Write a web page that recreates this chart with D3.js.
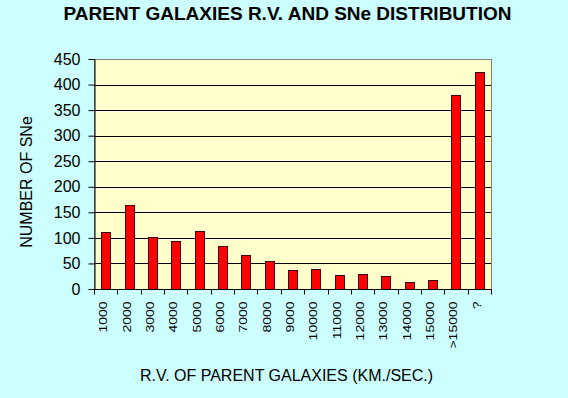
<!DOCTYPE html>
<html>
<head>
<meta charset="utf-8">
<script src="https://cdn.jsdelivr.net/npm/d3@7"></script>
<style>
  body { margin: 0; background: #ccffff; }
  svg { display: block; font-family: "Liberation Sans", Arial, sans-serif; }
</style>
</head>
<body>
<svg id="chart" width="568" height="398"></svg>
<script>
const categories = ["1000", "2000", "3000", "4000", "5000", "6000", "7000", "8000", "9000",
    "10000", "11000", "12000", "13000", "14000", "15000", ">15000", "?"];
const snCounts = [111, 164, 101, 93, 113, 85, 66, 54, 38, 40, 27, 29, 25, 13, 17, 379, 424];
const yTicks = [0, 50, 100, 150, 200, 250, 300, 350, 400, 450];

(function () {
    const svg = d3.select("#chart");
    const plotLeft = 94, plotRight = 491, plotTop = 59, plotBottom = 289;

    svg.append("rect").attr("width", 568).attr("height", 398).attr("fill", "#ccffff");

    const x = d3.scaleBand().domain(categories).range([plotLeft, plotRight]);
    const y = d3.scaleLinear().domain([0, 450]).range([plotBottom, plotTop]);

    // plot background
    svg.append("rect")
        .attr("x", plotLeft + 0.5).attr("y", plotTop + 0.5)
        .attr("width", plotRight - plotLeft).attr("height", plotBottom - plotTop)
        .attr("fill", "#ffffcc")
        .attr("stroke", "#808080");

    // gridlines
    svg.append("g")
        .selectAll("line")
        .data(yTicks.slice(1, -1))
        .enter()
        .append("line")
        .attr("x1", plotLeft).attr("x2", plotRight)
        .attr("y1", (d) => Math.round(y(d)) + 0.5)
        .attr("y2", (d) => Math.round(y(d)) + 0.5)
        .attr("stroke", "#000");

    // bars
    const barW = 9;
    svg.append("g")
        .selectAll("rect")
        .data(snCounts)
        .enter()
        .append("rect")
        .attr("x", (d, i) => Math.round(x(categories[i]) + x.bandwidth() / 2 - barW / 2) + 0.5)
        .attr("y", (d) => Math.round(y(d)) + 0.5)
        .attr("width", barW)
        .attr("height", (d) => Math.round(plotBottom - y(d)))
        .attr("fill", "#ff0000")
        .attr("stroke", "#400000");

    // y axis
    const yAxis = svg.append("g")
        .attr("transform", `translate(${plotLeft + 0.5},0)`)
        .call(d3.axisLeft(y).tickValues(yTicks).tickSize(6).tickSizeOuter(0).tickPadding(8));
    yAxis.select(".domain").attr("stroke", "#000");
    yAxis.selectAll("text").attr("font-size", 16).attr("fill", "#000")
        .attr("font-family", "Liberation Sans, Arial, sans-serif");

    // x axis
    const xAxis = svg.append("g")
        .attr("transform", `translate(0,${plotBottom + 0.5})`);
    xAxis.append("line")
        .attr("x1", plotLeft).attr("x2", plotRight + 1)
        .attr("stroke", "#000");
    xAxis.selectAll("line.tick")
        .data(categories.concat(["end"]))
        .enter()
        .append("line")
        .attr("class", "tick")
        .attr("x1", (d, i) => Math.round(plotLeft + i * x.bandwidth()) + 0.5)
        .attr("x2", (d, i) => Math.round(plotLeft + i * x.bandwidth()) + 0.5)
        .attr("y1", 0).attr("y2", 5)
        .attr("stroke", "#000");
    xAxis.selectAll("text")
        .data(categories)
        .enter()
        .append("text")
        .attr("transform", (d) => `translate(${x(d) + x.bandwidth() / 2 + 1.5},12) rotate(-90) scale(1,0.75)`)
        .attr("text-anchor", "end")
        .attr("font-size", 14)
        .text((d) => d);

    // titles
    svg.append("text")
        .attr("x", 287.5).attr("y", 20)
        .attr("text-anchor", "middle")
        .attr("font-size", 19)
        .attr("font-weight", "bold")
        .text("PARENT GALAXIES R.V. AND SNe DISTRIBUTION");

    svg.append("text")
        .attr("transform", "translate(32,182) rotate(-90)")
        .attr("text-anchor", "middle")
        .attr("font-size", 16)
        .text("NUMBER OF SNe");

    svg.append("text")
        .attr("x", 286.5).attr("y", 381)
        .attr("text-anchor", "middle")
        .attr("font-size", 16)
        .text("R.V. OF PARENT GALAXIES (KM./SEC.)");
})();
</script>
</body>
</html>
